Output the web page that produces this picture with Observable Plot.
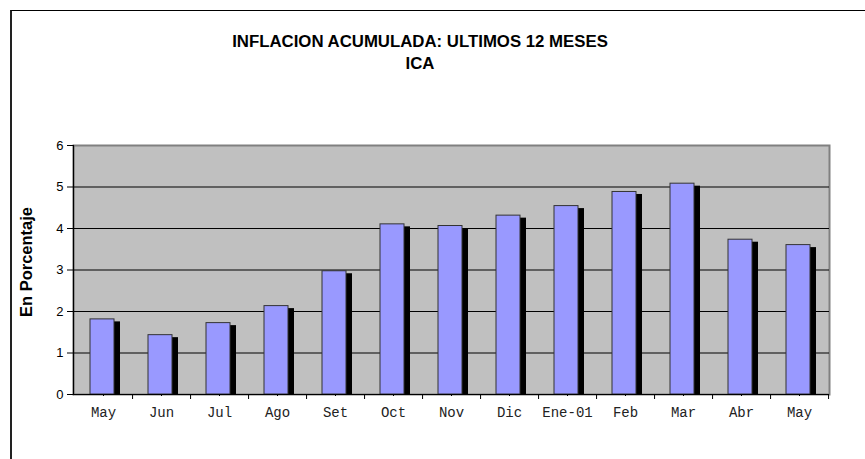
<!DOCTYPE html>
<html>
<head>
<meta charset="utf-8">
<script src="https://cdn.jsdelivr.net/npm/d3@7"></script>
<script src="https://cdn.jsdelivr.net/npm/@observablehq/plot@0.6"></script>
<style>
  html, body { margin: 0; padding: 0; background: #fff; }
  #wrap { position: relative; width: 865px; height: 459px; overflow: hidden; background: #fff; }
  #border { position: absolute; left: 10px; top: 10px; width: 1000px; height: 1000px;
            border-left: 2px solid #222; border-top: 1px solid #000; box-sizing: border-box; }
  #title { position: relative; width: 840px; height: 80px; box-sizing: border-box; padding-top: 31px;
           text-align: center; font-family: "Liberation Sans", Arial, sans-serif; font-weight: bold;
           font-size: 16.8px; line-height: 22px; color: #000; }
  #chart svg { display: block; }
</style>
</head>
<body>
<div id="wrap">
  <div id="border"></div>
  <div id="title">INFLACION ACUMULADA: ULTIMOS 12 MESES<br>ICA</div>
  <div id="chart"></div>
</div>
<script>
const meses = ["May", "Jun", "Jul", "Ago", "Set", "Oct", "Nov", "Dic", "Ene-01", "Feb", "Mar", "Abr", "May"];
const inflacion = [1.81, 1.43, 1.72, 2.13, 2.97, 4.10, 4.06, 4.31, 4.54, 4.88, 5.08, 3.73, 3.60];
const yTicks = [0, 1, 2, 3, 4, 5, 6];
const yLabel = "En Porcentaje";

const data = meses.map((m, i) => ({i, mes: m, valor: inflacion[i]}));

const W = 865, H = 379, mL = 73, mR = 36, mT = 65, mB = 65;
const step = (W - mL - mR) / meses.length;

const chart = Plot.plot({
  width: W, height: H,
  marginLeft: mL, marginRight: mR, marginTop: mT, marginBottom: mB,
  style: {fontFamily: "'Liberation Sans', Arial, sans-serif", background: "transparent", color: "#000", overflow: "visible"},
  x: {domain: d3.range(meses.length), paddingInner: 0.59, paddingOuter: 0.295, axis: null},
  y: {domain: [0, 6], axis: null},
  marks: [
    Plot.frame({fill: "#c0c0c0", stroke: "#808080", strokeWidth: 2}),
    Plot.gridY(yTicks.slice(1, -1), {stroke: "#000", strokeOpacity: 1, strokeWidth: 1}),
    Plot.barY(data, {x: "i", y: "valor", fill: "#000", dx: 5, insetTop: 2.5}),
    Plot.barY(data, {x: "i", y: "valor", fill: "#9999ff", stroke: "#333", strokeWidth: 1, dx: -1}),
    Plot.ruleY([0], {stroke: "#000", strokeWidth: 1.2}),
    Plot.frame({anchor: "left", stroke: "#000", strokeWidth: 1.2}),
    Plot.axisY(yTicks, {tickSize: 6, tickPadding: 4, fontSize: 13, stroke: "#000", label: null}),
    Plot.axisX({tickSize: 2, tickPadding: 11, tickFormat: i => meses[i], label: null,
                fontFamily: "'Liberation Mono', 'Courier New', monospace", fontSize: 14, fill: "#222"}),
    Plot.axisX({tickSize: 5, text: null, label: null, dx: step / 2}),
    Plot.text([yLabel], {frameAnchor: "left", textAnchor: "middle", rotate: -90, dx: -47, dy: -8,
                         fontWeight: "bold", fontSize: 16.5, fill: "#000"})
  ]
});
document.getElementById("chart").appendChild(chart);
</script>
</body>
</html>
